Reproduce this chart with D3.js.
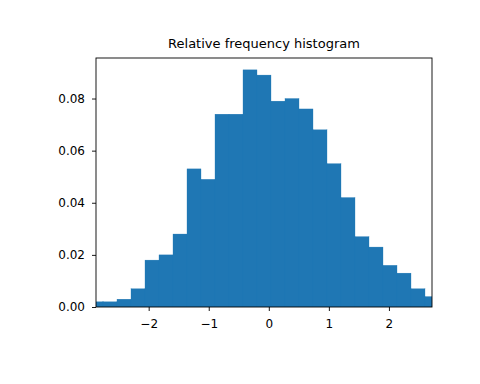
<!DOCTYPE html>
<html>
<head>
<meta charset="utf-8">
<script src="https://cdn.jsdelivr.net/npm/d3@7"></script>
<style>
  body { margin: 0; background: #fff; }
  text { font-family: "DejaVu Sans", sans-serif; }
</style>
</head>
<body>
<div id="chart"></div>
<script>
// relative frequencies of 25 bins (1000 samples)
const frequencies = [
  0.002, 0.002, 0.003, 0.007, 0.018, 0.020, 0.028, 0.053, 0.049, 0.074,
  0.074, 0.091, 0.089, 0.079, 0.080, 0.076, 0.068, 0.055, 0.042, 0.027,
  0.023, 0.016, 0.013, 0.007, 0.004
];
const lowerLimit = -2.877;
const binSize = 0.22376;
const xTicks = [-2, -1, 0, 1, 2];
const yTicks = [0, 0.02, 0.04, 0.06, 0.08];
const title = "Relative frequency histogram";

// bar centres, like lowerlimit + linspace(0, binsize * n, n)
const n = frequencies.length;
const centers = frequencies.map((_, i) => lowerLimit + (binSize * n) * i / (n - 1));

const width = 480, height = 384;
const margin = { top: 58, right: 48, bottom: 77, left: 96 };

const svg = d3.select("#chart").append("svg")
  .attr("width", width)
  .attr("height", height);

const x = d3.scaleLinear()
  .domain([d3.min(centers), d3.max(centers)])
  .range([margin.left, width - margin.right]);

const y = d3.scaleLinear()
  .domain([0, d3.max(frequencies) * 1.05])
  .range([height - margin.bottom, margin.top]);

svg.append("clipPath").attr("id", "plot-clip")
  .append("rect")
  .attr("x", margin.left)
  .attr("y", margin.top)
  .attr("width", width - margin.left - margin.right)
  .attr("height", height - margin.top - margin.bottom);

// bars (the tiny gaps between them vanish when snapped to pixels)
const step = x(centers[1]) - x(centers[0]);
svg.append("g")
  .attr("clip-path", "url(#plot-clip)")
  .selectAll("rect")
  .data(frequencies)
  .join("rect")
  .attr("x", (d, i) => x(centers[i]) - step / 2)
  .attr("width", step)
  .attr("y", d => y(d))
  .attr("height", d => y(0) - y(d))
  .attr("fill", "#1f77b4")
  .attr("stroke", "#1f77b4")
  .attr("stroke-width", 0.3);

// axes
const xAxis = svg.append("g")
  .attr("transform", `translate(0,${height - margin.bottom})`)
  .call(d3.axisBottom(x).tickValues(xTicks).tickSize(4).tickPadding(8)
    .tickFormat(d3.format("d")));

const yAxis = svg.append("g")
  .attr("transform", `translate(${margin.left},0)`)
  .call(d3.axisLeft(y).tickValues(yTicks).tickSize(4).tickPadding(7)
    .tickFormat(d3.format(".2f")));

[xAxis, yAxis].forEach(ax => {
  ax.select(".domain").remove();
  ax.selectAll("text")
    .attr("fill", "#000")
    .style("font-size", "12px")
    .style("font-family", "'DejaVu Sans', sans-serif");
  ax.selectAll("line").attr("stroke", "#000").attr("stroke-width", 0.9);
});

// spines
svg.append("rect")
  .attr("x", margin.left)
  .attr("y", margin.top)
  .attr("width", width - margin.left - margin.right)
  .attr("height", height - margin.top - margin.bottom)
  .attr("fill", "none")
  .attr("stroke", "#000")
  .attr("stroke-width", 0.9);

// title
svg.append("text")
  .attr("x", (margin.left + width - margin.right) / 2)
  .attr("y", margin.top - 10)
  .attr("text-anchor", "middle")
  .style("font-size", "13px")
  .text(title);
</script>
</body>
</html>
